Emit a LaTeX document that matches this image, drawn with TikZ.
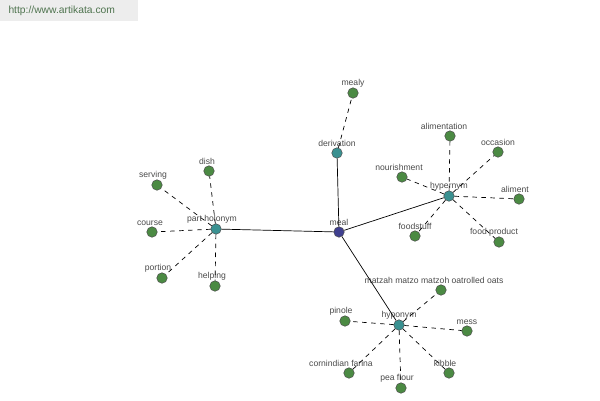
\documentclass[tikz,border=0pt]{standalone}
\usepackage{fontspec}
\setmainfont{Liberation Sans}

\definecolor{rootblue}{HTML}{3F3F8F}
\definecolor{hubteal}{HTML}{3A9191}
\definecolor{leafgreen}{HTML}{4B8A43}
\definecolor{labelgray}{HTML}{4A4A4A}
\definecolor{markgray}{HTML}{EDEDED}
\definecolor{markgreen}{HTML}{4F744F}

\tikzset{
  word/.style={circle, draw=black!70, line width=0.5pt, inner sep=0pt, minimum size=10.5bp},
  root/.style={word, fill=rootblue},
  hub/.style={word, fill=hubteal},
  leaf/.style={word, fill=leafgreen},
  lbl/.style={text=labelgray, font=\fontsize{8.6bp}{9bp}\selectfont, inner sep=0.5pt},
  rel/.style={line width=0.7pt, black},
  sub/.style={line width=0.7pt, black, dash pattern=on 4.5bp off 4.5bp}
}

\begin{document}
\begin{tikzpicture}[x=1bp, y=-1bp]

  \useasboundingbox (0,0) rectangle (600,400);

  % --- Watermark ---
  \fill[markgray] (0,0) rectangle (138,21);
  \node[text=markgreen, font=\fontsize{10.3bp}{11bp}\selectfont, anchor=west] (site) at (5,11) {http://www.artikata.com};

  % --- Root and hubs ---
  \node[root, label={[lbl]above:meal}]                  (meal)  at (339,232) {};
  \node[hub, label={[lbl]above:derivation}]             (deriv) at (337,153) {};
  \node[hub, label={[lbl, xshift=-4bp]above:part holonym}] (holo) at (216,229) {};
  \node[hub, label={[lbl]above:hypernym}]               (hyper) at (449,196) {};
  \node[hub, label={[lbl]above:hyponym}]                (hypo)  at (399,325) {};

  % --- Leaves: derivation ---
  \node[leaf, label={[lbl]above:mealy}] (mealy) at (353,93) {};

  % --- Leaves: part holonym ---
  \node[leaf, label={[lbl, xshift=-4bp]above:serving}] (serving) at (157,185) {};
  \node[leaf, label={[lbl, xshift=-2bp]above:dish}]    (dish)    at (209,171) {};
  \node[leaf, label={[lbl, xshift=-2bp]above:course}]  (course)  at (152,232) {};
  \node[leaf, label={[lbl, xshift=-4bp]above:portion}] (portion) at (162,278) {};
  \node[leaf, label={[lbl, xshift=-3bp]above:helping}] (helping) at (215,286) {};

  % --- Leaves: hypernym ---
  \node[leaf, label={[lbl, xshift=-6bp]above:alimentation}] (alim)    at (450,136) {};
  \node[leaf, label={[lbl]above:occasion}]                  (occ)     at (498,152) {};
  \node[leaf, label={[lbl, xshift=-3bp]above:nourishment}]  (nour)    at (402,177) {};
  \node[leaf, label={[lbl, xshift=-4bp]above:aliment}]      (aliment) at (519,199) {};
  \node[leaf, label={[lbl]above:foodstuff}]                 (fstuff)  at (415,236) {};
  \node[leaf, label={[lbl, xshift=-5bp]above:food product}] (fprod)   at (499,242) {};

  % --- Leaves: hyponym ---
  \node[leaf, label={[lbl, xshift=-7bp]above:matzah matzo matzoh oatrolled oats}] (matzah) at (441,290) {};
  \node[leaf, label={[lbl, xshift=-4bp]above:pinole}]            (pinole) at (345,321) {};
  \node[leaf, label={[lbl]above:mess}]                           (mess)   at (467,331) {};
  \node[leaf, label={[lbl, xshift=-8bp]above:cornindian farina}] (farina) at (349,373) {};
  \node[leaf, label={[lbl, xshift=-4bp]above:pea flour}]         (pea)    at (401,388) {};
  \node[leaf, label={[lbl, xshift=-4bp]above:kibble}]            (kibble) at (449,373) {};

  % --- Relations from root ---
  \draw[rel] (meal) -- (deriv);
  \draw[rel] (meal) -- (holo);
  \draw[rel] (meal) -- (hyper);
  \draw[rel] (meal) -- (hypo);

  % --- Words of each relation ---
  \draw[sub] (deriv) -- (mealy);
  \foreach \w in {serving, dish, course, portion, helping}
    \draw[sub] (holo) -- (\w);
  \foreach \w in {alim, occ, nour, aliment, fstuff, fprod}
    \draw[sub] (hyper) -- (\w);
  \foreach \w in {matzah, pinole, mess, farina, pea, kibble}
    \draw[sub] (hypo) -- (\w);

\end{tikzpicture}
\end{document}
